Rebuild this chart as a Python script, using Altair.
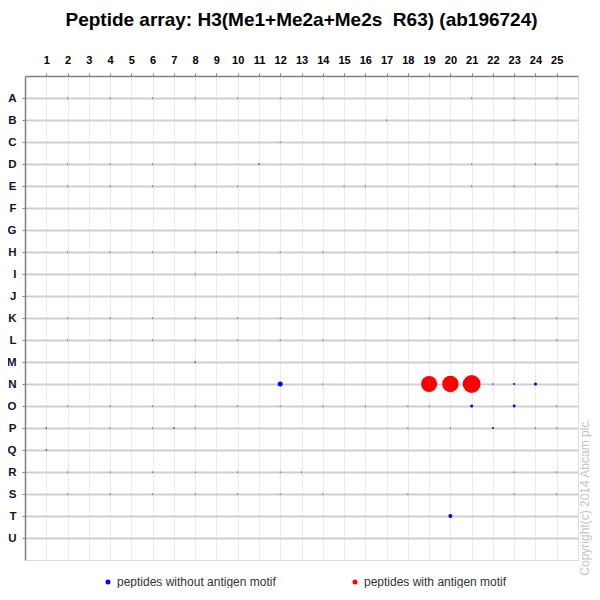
import altair as alt
import pandas as pd

title_text = "Peptide array: H3(Me1+Me2a+Me2s\u00a0\u00a0R63) (ab196724)"
copyright_text = "Copyright(c) 2014 Abcam plc."

col_labels = list(range(1, 26))
row_labels = list("ABCDEFGHIJKLMNOPQRSTU")
motif_labels = ["peptides without antigen motif", "peptides with antigen motif"]

# spot rows, columns, signal (relative intensity); motif flag derived below
spot_rows = (
    ["A"] * 10 + ["B"] * 2 + ["C"] * 1 + ["D"] * 8 + ["E"] * 10 + ["H"] * 10 + ["I"] * 1
    + ["K"] * 9 + ["L"] * 9 + ["M"] * 1 + ["N"] * 8 + ["O"] * 13 + ["P"] * 10 + ["Q"] * 1
    + ["R"] * 9 + ["S"] * 10 + ["T"] * 1
)
spot_cols = (
    [2, 4, 6, 8, 10, 12, 14, 21, 23, 25]
    + [17, 23]
    + [12]
    + [2, 4, 6, 8, 11, 21, 24, 25]
    + [2, 4, 6, 8, 10, 15, 16, 21, 23, 25]
    + [2, 4, 6, 8, 9, 10, 12, 14, 23, 25]
    + [8]
    + [2, 4, 6, 8, 10, 12, 19, 23, 25]
    + [2, 4, 6, 8, 10, 12, 14, 23, 25]
    + [8]
    + [12, 14, 22, 23, 24, 19, 20, 21]
    + [2, 4, 6, 8, 10, 12, 14, 16, 18, 19, 21, 23, 25]
    + [1, 4, 6, 7, 8, 18, 20, 22, 24, 25]
    + [1]
    + [2, 4, 6, 8, 10, 12, 13, 23, 25]
    + [2, 4, 6, 8, 10, 12, 14, 18, 23, 25]
    + [20]
)
spot_signal = (
    [0.45] * 10
    + [0.45] * 2
    + [0.45]
    + [0.45, 0.45, 0.45, 0.45, 0.8, 0.45, 0.45, 0.45]
    + [0.45] * 10
    + [0.45] * 10
    + [0.45]
    + [0.45] * 9
    + [0.45] * 9
    + [0.8]
    + [8.0, 0.45, 0.5, 1.5, 3.0, 80.0, 85.0, 100.0]
    + [0.45] * 10 + [3.0, 2.5, 0.45]
    + [0.6, 0.45, 0.45, 0.8, 0.45, 0.45, 0.45, 1.5, 0.45, 0.45]
    + [0.8]
    + [0.45] * 9
    + [0.45] * 10
    + [5.0]
)

spot_motif = [1 if (r == "N" and c in (19, 20, 21)) else 0 for r, c in zip(spot_rows, spot_cols)]

df = pd.DataFrame({
    "row": spot_rows,
    "col": spot_cols,
    "signal": spot_signal,
    "motif": [motif_labels[m] for m in spot_motif],
})
df = df.sort_values("signal")

W, H = 553, 484

points = alt.Chart(df).mark_circle(opacity=1, strokeWidth=0).encode(
    x=alt.X("col:O", scale=alt.Scale(type="point", domain=col_labels, padding=1),
            axis=alt.Axis(orient="top", title=None, labelAngle=0, labelFontWeight="bold",
                          labelFontSize=11, labelColor="#000000", labelFont="Liberation Sans",
                          tickColor="#808080", tickSize=3, domainColor="#808080", domainWidth=1.5,
                          grid=True, gridColor="#e9e9ee", gridWidth=1, labelPadding=8)),
    y=alt.Y("row:O", scale=alt.Scale(type="point", domain=row_labels, padding=1),
            axis=alt.Axis(orient="left", title=None, labelFontWeight="bold", labelFontSize=11.5,
                          labelColor="#111133", labelFont="Liberation Sans",
                          tickColor="#808080", tickSize=3, domainColor="#808080", domainWidth=1.5,
                          grid=True, gridColor="#d0d0d0", gridWidth=2, labelPadding=6)),
    size=alt.Size("signal:Q", scale=alt.Scale(type="linear", domain=[0, 100], range=[0, 320]),
                  legend=None),
    color=alt.Color("motif:N", scale=alt.Scale(domain=motif_labels, range=["#0000ff", "#ff0000"]),
                    legend=alt.Legend(orient="none", legendX=77, legendY=500, direction="horizontal",
                                      title=None, symbolType="circle", symbolSize=25,
                                      symbolStrokeWidth=0, labelFontSize=12, labelColor="#333333",
                                      labelFont="Liberation Sans", columnPadding=73, labelOffset=3,
                                      padding=0)),
)

copyright_layer = alt.Chart(pd.DataFrame({"t": [copyright_text]})).mark_text(
    angle=270, font="Liberation Sans", fontSize=12, color="#c4c4c4", align="center", baseline="middle"
).encode(text="t:N", x=alt.value(W + 7), y=alt.value(421))

chart = alt.layer(points, copyright_layer).properties(
    width=W, height=H,
    autosize="none",
    padding={"left": 17, "top": 68, "right": 14, "bottom": 28},
    title=alt.TitleParams(title_text, font="Liberation Sans", fontSize=19, fontWeight="bold",
                          color="#000000", anchor="middle", frame="group", offset=24),
).configure_view(stroke="#808080", strokeWidth=1.5).configure(background="white")

chart.save("out.html", embed_options={"renderer": "svg", "actions": False})
